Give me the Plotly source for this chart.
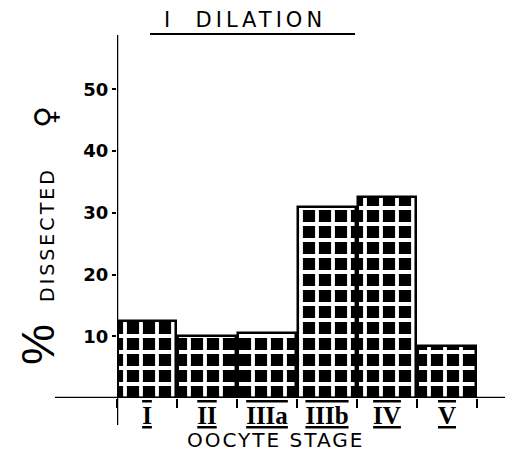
import plotly.graph_objects as go

stages = ["I", "II", "IIIa", "IIIb", "IV", "V"]
percent_dissected = [12.5, 10.0, 10.5, 31.0, 32.5, 8.5]
y_ticks = [10, 20, 30, 40, 50]

# page is rendered with an 8px body margin, so shift everything by -8
OFF = 8
PL, PT, PB = 117, 40, 398          # plot-area edges in page pixels
PW, PH = 513 - PL, PB - PT          # plot width / height


def px(xp):
    return (xp - PL) / PW


def py(yp):
    return (PB - yp) / PH


x_pos = list(range(len(stages)))
tick_text = ['<span style="text-decoration:overline underline">%s</span>' % s for s in stages]

fig = go.Figure()
fig.add_trace(go.Bar(
    x=x_pos, y=percent_dissected, width=0.97,
    marker=dict(color="black", line=dict(color="black", width=2.5),
                pattern=dict(shape="+", fgcolor="white", fgopacity=1, size=16, solidity=0.42)),
    hoverinfo="skip",
))

fig.update_layout(
    width=513 - OFF, height=462 - OFF,
    margin=dict(l=PL - OFF, r=0, t=PT - OFF, b=462 - PB, autoexpand=False),
    paper_bgcolor="white", plot_bgcolor="white",
    showlegend=False, bargap=0,
    xaxis=dict(range=[-0.5, 6.1], tickvals=x_pos, ticktext=tick_text,
               showgrid=False, zeroline=False, showline=False, ticks="", automargin=False,
               tickfont=dict(family="Liberation Serif", size=25, color="black", weight="bold"),
               minor=dict(tick0=0.5, dtick=1, ticks="outside", ticklen=9, tickwidth=2, tickcolor="black")),
    yaxis=dict(range=[0, 58], tickvals=y_ticks, ticktext=[str(v) for v in y_ticks],
               showgrid=False, zeroline=False, showline=False, automargin=False,
               ticks="outside", ticklen=4, tickwidth=2, tickcolor="black",
               tickfont=dict(family="DejaVu Sans", size=18, color="black", weight="bold")),
)

# axis lines (hand-drawn style, extended past the origin)
fig.add_shape(type="line", xref="paper", yref="y", x0=px(55), x1=1.0, y0=0, y1=0,
              line=dict(color="black", width=2.5))
fig.add_shape(type="line", xref="x", yref="paper", x0=-0.5, x1=-0.5, y0=py(425), y1=py(35),
              line=dict(color="black", width=2.5))

# title
fig.add_annotation(text='<span style="letter-spacing:4px">I  DILATION</span>', xref="paper", yref="paper",
                   x=px(245), y=py(20), xanchor="center", yanchor="middle",
                   showarrow=False, font=dict(family="DejaVu Sans", size=21, color="black"))
fig.add_shape(type="line", xref="paper", yref="paper", x0=px(150), x1=px(355),
              y0=py(34), y1=py(34), line=dict(color="black", width=2))

# x axis title
fig.add_annotation(text='<span style="letter-spacing:2px">OOCYTE STAGE</span>', xref="paper", yref="paper",
                   x=px(275), y=py(440), xanchor="center", yanchor="middle",
                   showarrow=False, font=dict(family="DejaVu Sans", size=20, color="black"))

# y axis title pieces
fig.add_annotation(text='<span style="letter-spacing:3px">DISSECTED</span>', xref="paper", yref="paper",
                   x=px(47), y=py(235), xanchor="center", yanchor="middle",
                   textangle=-90, showarrow=False, font=dict(family="DejaVu Sans", size=19, color="black"))
fig.add_annotation(text="♀", xref="paper", yref="paper", x=px(45), y=py(117),
                   xanchor="center", yanchor="middle",
                   textangle=-90, showarrow=False, font=dict(family="DejaVu Sans", size=30, color="black"))
fig.add_annotation(text="%", xref="paper", yref="paper", x=px(38), y=py(345),
                   xanchor="center", yanchor="middle",
                   textangle=-90, showarrow=False, font=dict(family="Liberation Sans", size=46, color="black"))

fig.write_html("out.html")
